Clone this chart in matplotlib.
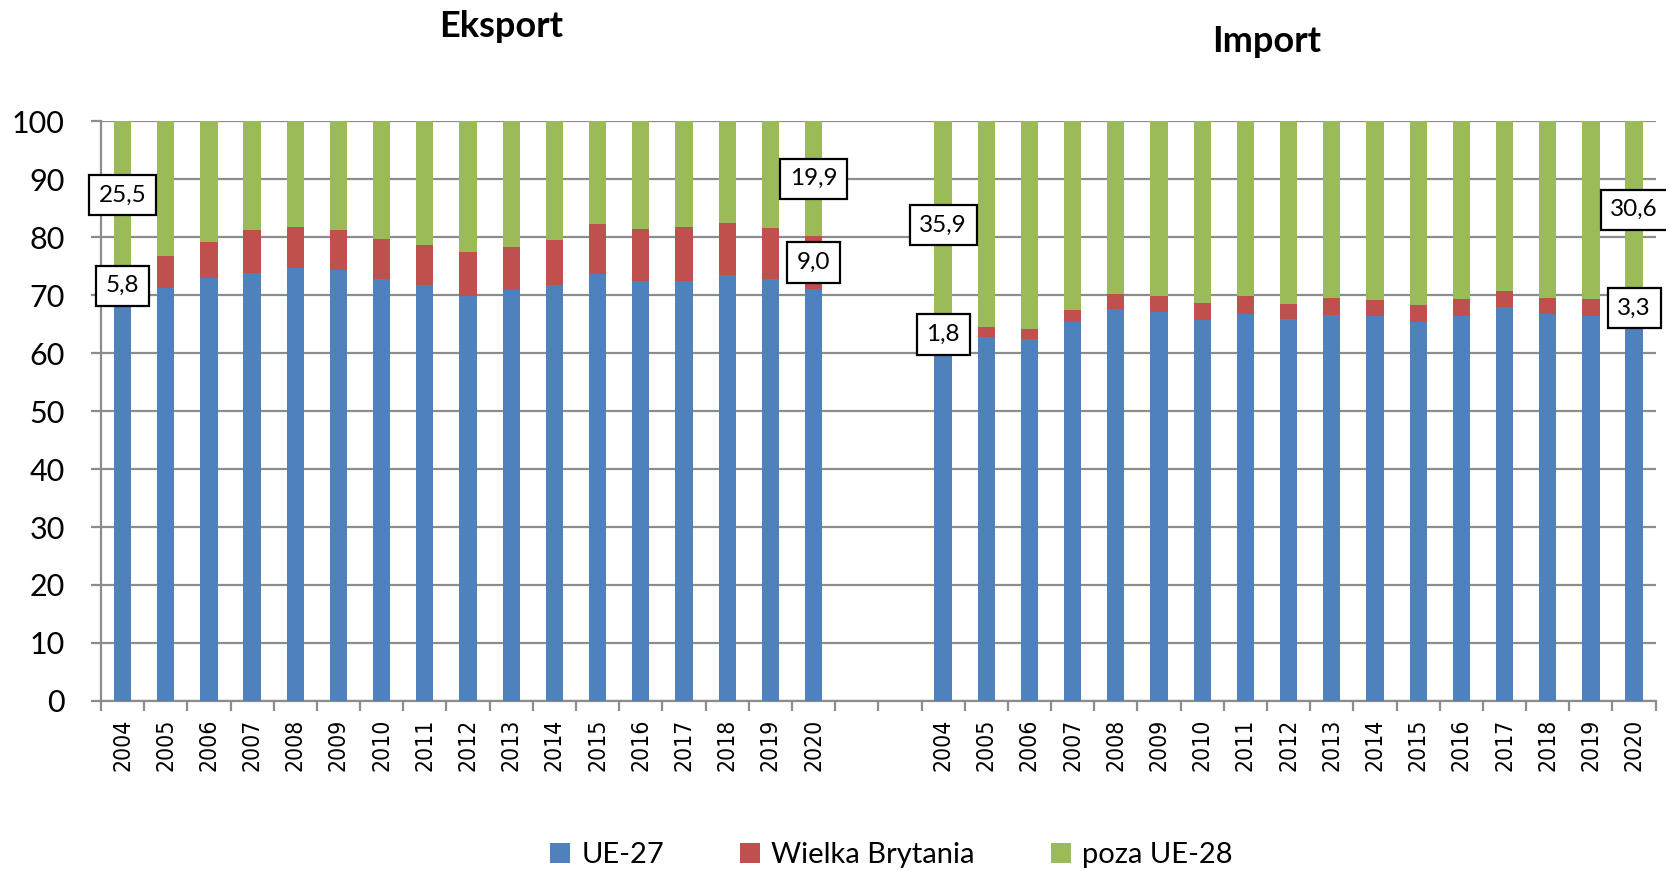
import matplotlib
matplotlib.use("Agg")
import matplotlib.pyplot as plt
import numpy as np

years = [str(y) for y in range(2004, 2021)]

# Eksport (%)
exp_ue27 = [68.7, 71.2, 72.9, 73.8, 74.6, 74.3, 72.8, 71.8, 69.9, 70.8, 71.8, 73.7, 72.5, 72.5, 73.4, 72.8, 71.1]
exp_uk   = [5.8, 5.6, 6.3, 7.5, 7.1, 7.0, 6.9, 6.9, 7.5, 7.5, 7.7, 8.5, 8.9, 9.3, 9.1, 8.8, 9.0]
exp_non  = [25.5, 23.2, 20.8, 18.7, 18.3, 18.7, 20.3, 21.3, 22.6, 21.7, 20.5, 17.8, 18.6, 18.2, 17.5, 18.4, 19.9]

# Import (%)
imp_ue27 = [62.3, 62.7, 62.4, 65.4, 67.6, 67.1, 65.7, 66.8, 65.9, 66.6, 66.4, 65.4, 66.4, 67.9, 66.7, 66.3, 66.1]
imp_uk   = [1.8, 1.8, 1.7, 2.1, 2.5, 2.7, 2.9, 3.0, 2.6, 2.9, 2.8, 2.9, 3.0, 2.8, 2.8, 3.1, 3.3]
imp_non  = [35.9, 35.5, 35.9, 32.5, 29.9, 30.2, 31.4, 30.2, 31.5, 30.5, 30.8, 31.7, 30.6, 29.3, 30.5, 30.6, 30.6]

series_names = ["UE-27", "Wielka Brytania", "poza UE-28"]
colors = ["#4F81BD", "#C0504D", "#9BBB59"]
titles = ["Eksport", "Import"]
yticks = [0, 10, 20, 30, 40, 50, 60, 70, 80, 90, 100]

gap = 2
n = len(years)
pos_exp = np.arange(n)
pos_imp = np.arange(n) + n + gap
positions = np.concatenate([pos_exp, pos_imp])
ue27 = np.array(exp_ue27 + imp_ue27)
uk = np.array(exp_uk + imp_uk)
non = np.array(exp_non + imp_non)
labels = years + years

fig = plt.figure(figsize=(16.66, 8.71), dpi=100)
ax = fig.add_axes([0.0606, 0.1952, 0.9332, 0.6658])

w = 0.4
b1 = ax.bar(positions, ue27, width=w, color=colors[0], label=series_names[0], zorder=3)
b2 = ax.bar(positions, uk, width=w, bottom=ue27, color=colors[1], label=series_names[1], zorder=3)
b3 = ax.bar(positions, non, width=w, bottom=ue27 + uk, color=colors[2], label=series_names[2], zorder=3)

grid_c = "#8C8C8C"
total = 2 * n + gap
ax.set_xlim(-0.5, total - 0.5)
ax.set_ylim(0, 100)
ax.set_yticks(yticks)
ax.set_yticklabels([str(t) for t in yticks], fontsize=22, family="Lato")
ax.yaxis.grid(True, color=grid_c, lw=1.6, zorder=0)
ax.tick_params(axis="y", length=7, width=1.6, color=grid_c, pad=19)

ax.set_xticks(np.arange(-0.5, total, 1.0))
ax.set_xticklabels([])
ax.tick_params(axis="x", which="major", length=7, width=1.6, color=grid_c)
ax.set_xticks(positions, minor=True)
ax.set_xticklabels(labels, minor=True, rotation=90, fontsize=16.5,
                   family="DejaVu Sans", fontstretch="condensed")
ax.tick_params(axis="x", which="minor", length=0, pad=13)

for s in ["top", "right"]:
    ax.spines[s].set_visible(False)
for s in ["left", "bottom"]:
    ax.spines[s].set_color(grid_c)
    ax.spines[s].set_linewidth(1.6)

box = dict(boxstyle="square,pad=0.4", fc="white", ec="black", lw=1.6)
def lab(i, bottom, val):
    ax.text(positions[i], bottom + val / 2, f"{val:.1f}".replace(".", ","),
            ha="center", va="center", fontsize=17.5, family="Lato", bbox=box, zorder=5)

for i in [0, n - 1, n, 2 * n - 1]:
    lab(i, ue27[i], uk[i])
    lab(i, ue27[i] + uk[i], non[i])

fig.text(0.3007, 0.958, titles[0], ha="center", va="baseline", fontsize=26, fontweight="bold", family="Lato")
fig.text(0.760, 0.940, titles[1], ha="center", va="baseline", fontsize=26, fontweight="bold", family="Lato")

fig.legend(handles=[b1, b2, b3], labels=series_names, loc="center", bbox_to_anchor=(0.535, 0.018),
           ncol=3, frameon=False, handlelength=0.7, handleheight=0.7,
           handletextpad=0.38, columnspacing=2.6, prop={"family": "Lato", "size": 21})

fig.savefig("out.png", dpi=100)
